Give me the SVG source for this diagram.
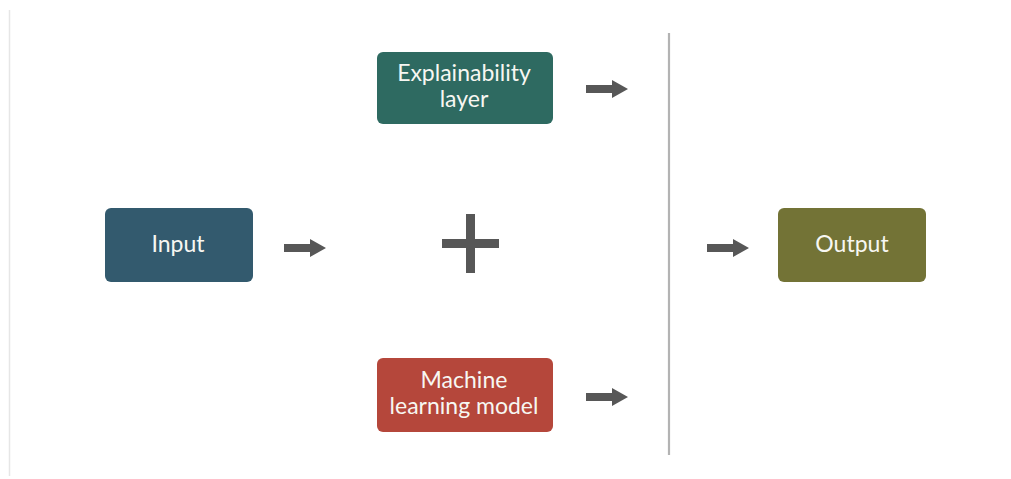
<svg xmlns="http://www.w3.org/2000/svg" width="1011" height="479" viewBox="0 0 1011 479">
  <defs>
    <style>
      .box-text { font-family: Lato, "Open Sans", "Liberation Sans", sans-serif; font-size: 23px; fill: #f7f7f2; text-anchor: middle; }
      .arrow { fill: #575757; }
    </style>
    <path id="arr" d="M0,-4 L26,-4 L26,-9 L42,0 L26,9 L26,4 L0,4 Z"/>
  </defs>
  <rect x="0" y="0" width="1011" height="479" fill="#ffffff"/>
  <line x1="9.5" y1="10" x2="9.5" y2="476" stroke="#e6e6e6" stroke-width="1.5"/>
  <line x1="669" y1="33" x2="669" y2="455" stroke="#b3b3b3" stroke-width="2.2"/>

  <g id="input">
    <rect x="105" y="208" width="148" height="74" rx="6" fill="#335a6e"/>
    <text class="box-text" x="178" y="252">Input</text>
  </g>
  <g id="explainability">
    <rect x="377" y="52" width="176" height="72" rx="6" fill="#2e6a61"/>
    <text class="box-text" x="464" y="81">Explainability</text>
    <text class="box-text" x="464" y="107">layer</text>
  </g>
  <g id="plus">
    <rect x="466" y="214" width="9" height="59" fill="#575757"/>
    <rect x="442" y="239" width="57" height="9" fill="#575757"/>
  </g>
  <g id="ml-model">
    <rect x="377" y="358" width="176" height="74" rx="6" fill="#b5473b"/>
    <text class="box-text" x="464" y="388">Machine</text>
    <text class="box-text" x="464" y="414">learning model</text>
  </g>
  <g id="output">
    <rect x="778" y="208" width="148" height="74" rx="6" fill="#737336"/>
    <text class="box-text" x="852" y="252">Output</text>
  </g>

  <g id="connectors" class="arrow">
    <use href="#arr" x="284" y="248"/>
    <use href="#arr" x="586" y="89"/>
    <use href="#arr" x="586" y="397"/>
    <use href="#arr" x="707" y="248"/>
  </g>
</svg>
